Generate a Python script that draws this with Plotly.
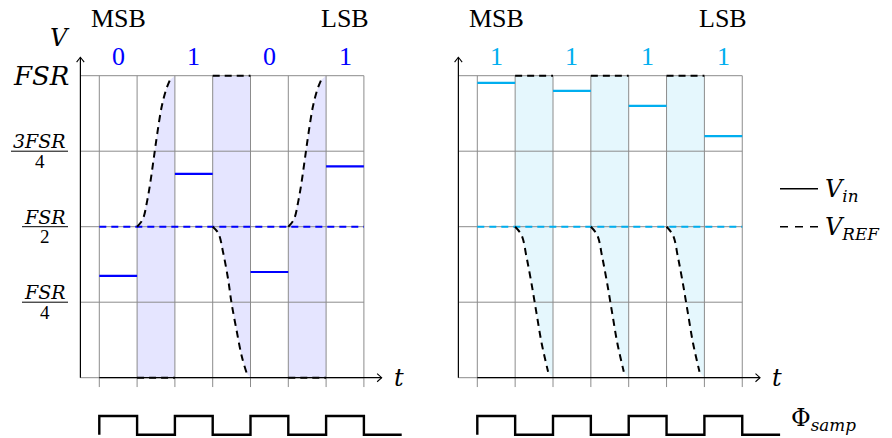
import plotly.graph_objects as go

# ---------------- data ----------------
sample_starts = [0, 2, 4, 6]          # sampling intervals (t units)
compare_starts = [1, 3, 5]            # conversion intervals (shaded)
left_bits = ["0", "1", "0", "1"]
right_bits = ["1", "1", "1", "1"]
left_vin = [0.337, 0.675, 0.35, 0.70]     # in units of FSR
right_vin = [0.976, 0.95, 0.90, 0.80]
vref_mid = 0.5
left_dir = ["up", "down", "up"]
right_dir = ["down", "down", "down"]
rise_dx = [0, 0.148, 0.27, 0.36, 0.447, 0.534, 0.65, 0.765, 0.87]
rise_y = [0.5, 0.524, 0.588, 0.655, 0.732, 0.809, 0.897, 0.953, 0.986]
fall_dx_left = [0, 0.15, 0.28, 0.41, 0.50, 0.63, 0.77, 0.90]
fall_y_left = [0.5, 0.478, 0.412, 0.324, 0.246, 0.158, 0.07, 0.015]
fall_dx_right = [0, 0.17, 0.30, 0.43, 0.565, 0.70, 0.87]
fall_y_right = [0.5, 0.472, 0.40, 0.313, 0.213, 0.114, 0.02]
clock_levels = [1, 0, 1, 0, 1, 0, 1, 0]
ytick_vals = [1, 0.75, 0.5, 0.25]
ytick_num = ["FSR", "3FSR", "FSR", "FSR"]
ytick_den = ["", "4", "2", "4"]

# ---------------- style ----------------
W, H = 892, 438
GRID = "#8c8c8c"
DASH = "7px,5px"
ROMAN = "Liberation Serif"
MATH = "DejaVu Serif"
CLK_HI, CLK_LO = -0.127, -0.189

fig = go.Figure()


def panel(xa, bits, vin, dirs, fall_dx, fall_y, col, fillcol):
    # shaded conversion intervals with curve-bounded fill
    for c, d in zip(compare_starts, dirs):
        if d == "up":
            cx = [c + v for v in rise_dx]
            cy = list(rise_y)
            px = [c] + cx + [c + 1, c + 1]
            py = [0] + cy + [1, 0]
        else:
            cx = [c + v for v in fall_dx]
            cy = list(fall_y)
            px = [c] + cx + [c + 1, c + 1]
            py = [1] + cy + [0, 1]
        fig.add_trace(go.Scatter(x=px, y=py, xaxis=xa, yaxis="y", fill="toself",
                                 fillcolor=fillcol, mode="none", hoverinfo="skip",
                                 showlegend=False))
    # grid
    gx, gy = [], []
    for k in range(8):
        gx += [k, k, None]
        gy += [-0.031, 1, None]
    for v in [0, 0.25, 0.5, 0.75, 1]:
        gx += [-0.5, 7, None]
        gy += [v, v, None]
    fig.add_trace(go.Scatter(x=gx, y=gy, xaxis=xa, yaxis="y", mode="lines",
                             line=dict(color=GRID, width=1), hoverinfo="skip",
                             showlegend=False))
    # axes
    fig.add_trace(go.Scatter(x=[-0.5, -0.5], y=[0, 1.061], xaxis=xa, yaxis="y", mode="lines",
                             line=dict(color="black", width=1.2), hoverinfo="skip", showlegend=False))
    fig.add_trace(go.Scatter(x=[0, 7.47], y=[0, 0], xaxis=xa, yaxis="y", mode="lines",
                             line=dict(color="black", width=1.2), hoverinfo="skip", showlegend=False))
    fig.add_trace(go.Scatter(x=[-0.5 - 0.1, -0.5, -0.5 + 0.1], y=[1.061 - 0.016, 1.061, 1.061 - 0.016],
                             xaxis=xa, yaxis="y", mode="lines", line=dict(color="black", width=1.1),
                             hoverinfo="skip", showlegend=False))
    fig.add_trace(go.Scatter(x=[7.47 - 0.12, 7.47, 7.47 - 0.12], y=[0.0135, 0, -0.0135],
                             xaxis=xa, yaxis="y", mode="lines", line=dict(color="black", width=1.1),
                             hoverinfo="skip", showlegend=False))
    # comparator mid-level (dashed, coloured)
    fig.add_trace(go.Scatter(x=[0, 7], y=[vref_mid, vref_mid], xaxis=xa, yaxis="y", mode="lines",
                             line=dict(color=col, width=2, dash=DASH), hoverinfo="skip",
                             showlegend=False))
    # VREF curves + terminal levels
    for c, d in zip(compare_starts, dirs):
        if d == "up":
            cx = [c + v for v in rise_dx]
            cy = list(rise_y)
            term = 0
        else:
            cx = [c + v for v in fall_dx]
            cy = list(fall_y)
            term = 1
        fig.add_trace(go.Scatter(x=cx, y=cy, xaxis=xa, yaxis="y", mode="lines",
                                 line=dict(color="black", width=2, dash=DASH, shape="spline"),
                                 hoverinfo="skip", showlegend=False))
        fig.add_trace(go.Scatter(x=[c, c + 1], y=[term, term], xaxis=xa, yaxis="y", mode="lines",
                                 line=dict(color="black", width=2, dash=DASH),
                                 hoverinfo="skip", showlegend=False))
    # Vin held levels
    vx, vy = [], []
    for s, v in zip(sample_starts, vin):
        vx += [s, s + 1, None]
        vy += [v, v, None]
    fig.add_trace(go.Scatter(x=vx, y=vy, xaxis=xa, yaxis="y", mode="lines",
                             line=dict(color=col, width=2.2), hoverinfo="skip", showlegend=False))
    # sampling clock
    ckx = [0] + list(range(0, len(clock_levels) + 1))
    cky = [CLK_LO] + [CLK_HI if l else CLK_LO for l in clock_levels] + [CLK_LO]
    fig.add_trace(go.Scatter(x=ckx, y=cky, xaxis=xa, yaxis="y", mode="lines",
                             line=dict(color="black", width=2.4, shape="hv"),
                             hoverinfo="skip", showlegend=False))
    # bits
    for s, b in zip(sample_starts, bits):
        fig.add_annotation(x=s + 0.5, y=1.062, xref=xa, yref="y", text=b, showarrow=False,
                           font=dict(family=ROMAN, size=26, color=col))
    fig.add_annotation(x=sample_starts[0] + 0.5, y=1.188, xref=xa, yref="y", text="MSB",
                       showarrow=False, font=dict(family=ROMAN, size=26, color="black"))
    fig.add_annotation(x=sample_starts[-1] + 0.5, y=1.188, xref=xa, yref="y", text="LSB",
                       showarrow=False, font=dict(family=ROMAN, size=26, color="black"))
    fig.add_annotation(x=-1.04, y=1.125, xref=xa, yref="y", text="<i>V</i>",
                       showarrow=False, font=dict(family=MATH, size=24, color="black"))
    fig.add_annotation(x=7.93, y=0.0, xref=xa, yref="y", text="<i>t</i>",
                       showarrow=False, font=dict(family=MATH, size=24, color="black"))


panel("x", left_bits, left_vin, left_dir, fall_dx_left, fall_y_left,
      "rgb(0,0,255)", "rgb(229,229,255)")
panel("x2", right_bits, right_vin, right_dir, fall_dx_right, fall_y_right,
      "rgb(0,174,239)", "rgb(229,247,253)")

# y tick labels (left panel)
for v, num, den in zip(ytick_vals, ytick_num, ytick_den):
    if not den:
        fig.add_annotation(x=-0.75, y=v, xref="x", yref="y", text="<i>" + num + "</i>",
                           xanchor="right", showarrow=False,
                           font=dict(family=MATH, size=26, color="black"))
    else:
        left = -2.336 if num.startswith("3") else -2.045
        right = -0.828
        mid = (left + right) / 2
        fig.add_annotation(x=mid, y=v, xref="x", yref="y", text="<i>" + num + "</i>",
                           yshift=10, showarrow=False,
                           font=dict(family=MATH, size=19, color="black"))
        fig.add_annotation(x=mid, y=v, xref="x", yref="y", text=den,
                           yshift=-10, showarrow=False,
                           font=dict(family=ROMAN, size=19, color="black"))
        fig.add_shape(type="line", x0=left, x1=right, y0=v, y1=v, xref="x", yref="y",
                      line=dict(color="black", width=1))

# legend (manual)
def px(xp):
    return xp / W


def py(yp):
    return 1 - yp / H


fig.add_shape(type="line", x0=px(780), x1=px(818), y0=py(188.7), y1=py(188.7),
              xref="paper", yref="paper", line=dict(color="black", width=1.6))
fig.add_shape(type="line", x0=px(780), x1=px(818), y0=py(226.7), y1=py(226.7),
              xref="paper", yref="paper", line=dict(color="black", width=1.6, dash="8px,7px"))
fig.add_annotation(x=px(823), y=py(188), xref="paper", yref="paper", xanchor="left",
                   text="<i>V</i><sub><i>in</i></sub>", showarrow=False, yshift=-2,
                   font=dict(family=MATH, size=24, color="black"))
fig.add_annotation(x=px(823), y=py(226), xref="paper", yref="paper", xanchor="left",
                   text="<i>V</i><sub><i>REF</i></sub>", showarrow=False, yshift=-2,
                   font=dict(family=MATH, size=24, color="black"))
fig.add_annotation(x=px(789), y=py(422), xref="paper", yref="paper", xanchor="left",
                   text="Φ<sub><i>samp</i></sub>", showarrow=False, yshift=-15,
                   font=dict(family=MATH, size=24, color="black"))

# axes: pixel-calibrated ranges
ux_l, x0_l = 37.8, 99.3
ux_r, x0_r = 37.85, 477.3
uy, y0 = 302.0, 377.7
fig.update_layout(
    width=W, height=H, margin=dict(l=0, r=0, t=0, b=0),
    paper_bgcolor="white", plot_bgcolor="white",
    xaxis=dict(domain=[0, 0.5], range=[(0 - x0_l) / ux_l, (446 - x0_l) / ux_l], visible=False),
    xaxis2=dict(domain=[0.5, 1], range=[(446 - x0_r) / ux_r, (892 - x0_r) / ux_r], visible=False,
                anchor="y"),
    yaxis=dict(domain=[0, 1], range=[(y0 - H) / uy, y0 / uy], visible=False),
    showlegend=False,
)

fig.write_html("out.html")
